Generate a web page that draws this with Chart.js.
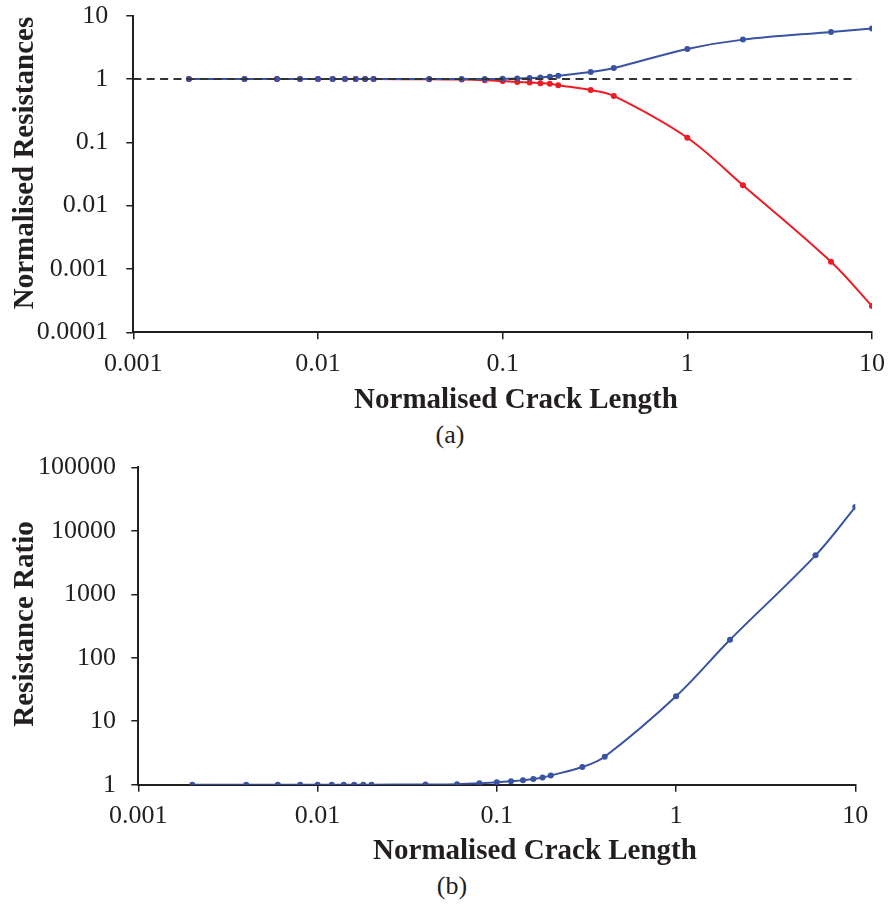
<!DOCTYPE html>
<html>
  <head>
    <title>Normalised Resistances</title>
    <style>
      body { margin: 0; background: #fff; }
      .wrap { position: relative; width: 894px; height: 907px; }
      canvas { position: absolute; left: 0; }
      .tag { position: absolute; font-family: "Liberation Serif", serif; font-size: 26px; line-height: 1; color: #231F20;
             transform: translate(-50%, -50%); white-space: nowrap; }
      .ttl { position: absolute; font-family: "Liberation Serif", serif; font-size: 29px; font-weight: bold; line-height: 1;
             color: #231F20; white-space: nowrap; transform: translate(-50%, -50%); }
      .ttl.rot { transform: translate(-50%, -50%) rotate(-90deg); }
    </style>
  </head>
  <body>
    <script src="https://cdn.jsdelivr.net/npm/chart.js"></script>

    <div class="wrap">
      <canvas id="chartA" width="894" height="420" style="top:0px"></canvas>
      <canvas id="chartB" width="894" height="420" style="top:450px"></canvas>
      <div class="ttl rot" style="left:23px; top:163px">Normalised Resistances</div>
      <div class="ttl" style="left:516px; top:398px">Normalised Crack Length</div>
      <div class="tag" style="left:450px; top:435px">(a)</div>
      <div class="ttl rot" style="left:23px; top:624px">Resistance Ratio</div>
      <div class="ttl" style="left:535px; top:849px">Normalised Crack Length</div>
      <div class="tag" style="left:452px; top:886px">(b)</div>
    </div>

    <script>
      // crack length (normalised)
      const crackLength = [0.002, 0.004, 0.006, 0.008, 0.01, 0.012, 0.014, 0.016, 0.018, 0.02,
                           0.04, 0.06, 0.08, 0.1, 0.12, 0.14, 0.16, 0.18, 0.2, 0.3, 0.4, 1, 2, 6, 10];

      // (a) normalised resistances
      const blueResistance = [1, 1, 1, 1, 1, 1, 1, 1, 1, 1,
                              1, 1, 1, 1.01, 1.02, 1.035, 1.06, 1.09, 1.13, 1.29, 1.49, 2.98, 4.19, 5.54, 6.3];
      const redResistance = [1, 1, 1, 1, 1, 1, 1, 1, 1, 1,
                             0.99, 0.98, 0.96, 0.93, 0.9, 0.88, 0.86, 0.84, 0.8, 0.67, 0.54, 0.118, 0.021, 0.0013, 0.00026];

      // (b) resistance ratio
      const resistanceRatio = [1, 1, 1, 1, 1, 1, 1, 1, 1, 1,
                               1.01, 1.02, 1.05, 1.09, 1.13, 1.17, 1.23, 1.3, 1.4, 1.9, 2.76, 24.7, 192, 4100, 23600];

      // reference line at 1
      const refLineX = [0.001, 8.3];
      const refLineY = [1, 1];

      const xTicks = [0.001, 0.01, 0.1, 1, 10];
      const xTickLabels = ['0.001', '0.01', '0.1', '1', '10'];
      const yTicksA = [0.0001, 0.001, 0.01, 0.1, 1, 10];
      const yTickLabelsA = ['0.0001', '0.001', '0.01', '0.1', '1', '10'];
      const yTicksB = [1, 10, 100, 1000, 10000, 100000];
      const yTickLabelsB = ['1', '10', '100', '1000', '10000', '100000'];

      const ink = '#231F20';
      const blue = '#3953A4';
      const red = '#ED1C24';

      const toPoints = (xs, ys) => xs.map((x, i) => ({ x: x, y: ys[i] }));

      function makeAxis(pos, min, max, ticks, labels, size, labelPad) {
        return {
          type: 'logarithmic',
          position: pos,
          min: min,
          max: max,
          afterBuildTicks: scale => { scale.ticks = ticks.map(v => ({ value: v, major: true })); },
          afterFit: scale => {
            // fixed axis size, no extra label padding so the plot area lands where it should
            if (pos === 'left') {
              scale.width = size;
              scale.paddingTop = 0;
              scale.paddingBottom = 0;
            } else {
              scale.height = size;
            }
          },
          ticks: {
            autoSkip: false,
            maxRotation: 0,
            padding: labelPad,
            color: ink,
            font: { family: 'Liberation Serif', size: 26 },
            callback: value => {
              const i = ticks.indexOf(value);
              return i >= 0 ? labels[i] : '';
            }
          },
          grid: { drawOnChartArea: false, drawTicks: true, tickLength: 7, color: ink, lineWidth: 1.5 },
          border: { display: true, color: ink, width: 2 },
          title: { display: false }
        };
      }

      function lineSet(data, color) {
        return {
          data: data,
          borderColor: color,
          backgroundColor: color,
          borderWidth: 2,
          pointRadius: 3,
          pointBorderWidth: 0,
          tension: 0.35
        };
      }

      // chart (a)
      new Chart(document.getElementById('chartA').getContext('2d'), {
        type: 'line',
        data: {
          datasets: [
            {
              data: toPoints(refLineX, refLineY),
              borderColor: '#333333',
              borderWidth: 2,
              borderDash: [8, 5.4],
              pointRadius: 0,
              tension: 0
            },
            lineSet(toPoints(crackLength, blueResistance), blue),
            lineSet(toPoints(crackLength, redResistance), red)
          ]
        },
        options: {
          responsive: false,
          animation: false,
          layout: { padding: { left: 0, right: 18, top: 15.7, bottom: 5.7 } },
          plugins: { legend: { display: false }, tooltip: { enabled: false } },
          scales: {
            x: makeAxis('bottom', 0.001, 10, xTicks, xTickLabels, 82, 9),
            y: makeAxis('left', 0.0001, 10, yTicksA, yTickLabelsA, 133.3, 18)
          }
        }
      });

      // chart (b)
      new Chart(document.getElementById('chartB').getContext('2d'), {
        type: 'line',
        data: {
          datasets: [
            lineSet(toPoints(crackLength, resistanceRatio), blue)
          ]
        },
        options: {
          responsive: false,
          animation: false,
          layout: { padding: { left: 0, right: 38.7, top: 17.3, bottom: 3.3 } },
          plugins: { legend: { display: false }, tooltip: { enabled: false } },
          scales: {
            x: makeAxis('bottom', 0.001, 10, xTicks, xTickLabels, 82, 9),
            y: makeAxis('left', 1, 100000, yTicksB, yTickLabelsB, 138.3, 15.3)
          }
        }
      });
    </script>
  </body>
</html>
